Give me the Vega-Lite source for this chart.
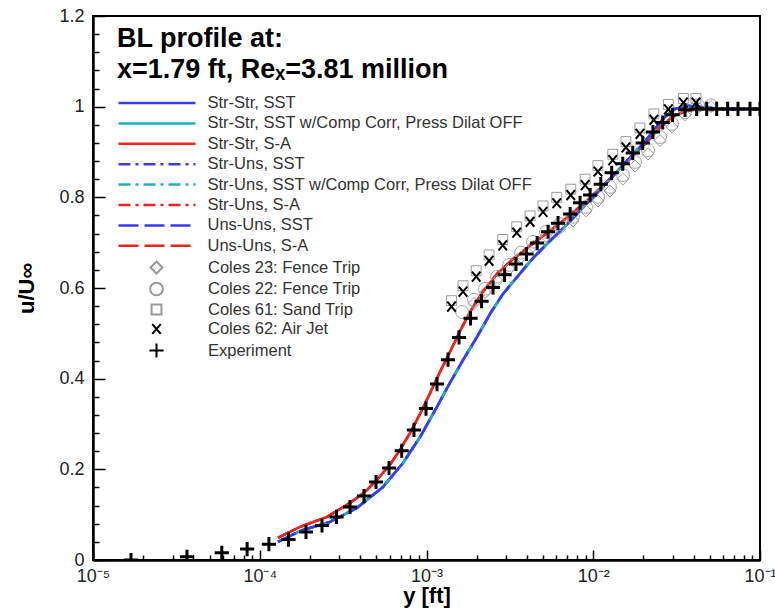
{
  "$schema": "https://vega.github.io/schema/vega-lite/v6.json",
  "width": 667,
  "height": 544,
  "autosize": "none",
  "padding": {"left": 93, "top": 16, "right": 15, "bottom": 48},
  "background": "white",
  "config": {"font": "Liberation Sans", "view": {"stroke": "black", "strokeWidth": 2}},
  "datasets": {
    "models": [
      {"m": "SA", "names": ["Str-Str, S-A", "Str-Uns, S-A", "Uns-Uns, S-A"]},
      {"m": "SST", "names": ["Str-Str, SST", "Str-Str, SST w/Comp Corr, Press Dilat OFF", "Str-Uns, SST", "Str-Uns, SST w/Comp Corr, Press Dilat OFF", "Uns-Uns, SST"]}
    ],
    "curves": [
      {"m": "SA", "x": 0.0001286, "u": 0.049},
      {"m": "SA", "x": 0.0001743, "u": 0.073},
      {"m": "SA", "x": 0.0002531, "u": 0.095},
      {"m": "SA", "x": 0.0003477, "u": 0.126},
      {"m": "SA", "x": 0.0004278, "u": 0.150},
      {"m": "SA", "x": 0.0005046, "u": 0.177},
      {"m": "SA", "x": 0.000604, "u": 0.210},
      {"m": "SA", "x": 0.0006935, "u": 0.243},
      {"m": "SA", "x": 0.000796, "u": 0.280},
      {"m": "SA", "x": 0.000914, "u": 0.322},
      {"m": "SA", "x": 0.00105, "u": 0.368},
      {"m": "SA", "x": 0.001205, "u": 0.415},
      {"m": "SA", "x": 0.001383, "u": 0.459},
      {"m": "SA", "x": 0.001588, "u": 0.505},
      {"m": "SA", "x": 0.001824, "u": 0.547},
      {"m": "SA", "x": 0.002152, "u": 0.589},
      {"m": "SA", "x": 0.002648, "u": 0.631},
      {"m": "SA", "x": 0.003302, "u": 0.664},
      {"m": "SA", "x": 0.004175, "u": 0.693},
      {"m": "SA", "x": 0.00528, "u": 0.721},
      {"m": "SA", "x": 0.00677, "u": 0.752},
      {"m": "SA", "x": 0.00892, "u": 0.788},
      {"m": "SA", "x": 0.01176, "u": 0.830},
      {"m": "SA", "x": 0.0155, "u": 0.874},
      {"m": "SA", "x": 0.02043, "u": 0.918},
      {"m": "SA", "x": 0.02515, "u": 0.954},
      {"m": "SA", "x": 0.02967, "u": 0.977},
      {"m": "SA", "x": 0.0355, "u": 0.990},
      {"m": "SA", "x": 0.0437, "u": 0.995},
      {"m": "SA", "x": 0.1, "u": 0.995},
      {"m": "SST", "x": 0.0001286, "u": 0.040},
      {"m": "SST", "x": 0.0001743, "u": 0.064},
      {"m": "SST", "x": 0.0002638, "u": 0.084},
      {"m": "SST", "x": 0.000383, "u": 0.115},
      {"m": "SST", "x": 0.000548, "u": 0.161},
      {"m": "SST", "x": 0.000723, "u": 0.214},
      {"m": "SST", "x": 0.000914, "u": 0.271},
      {"m": "SST", "x": 0.001156, "u": 0.338},
      {"m": "SST", "x": 0.001383, "u": 0.391},
      {"m": "SST", "x": 0.001656, "u": 0.441},
      {"m": "SST", "x": 0.002009, "u": 0.492},
      {"m": "SST", "x": 0.002403, "u": 0.543},
      {"m": "SST", "x": 0.002876, "u": 0.587},
      {"m": "SST", "x": 0.003489, "u": 0.624},
      {"m": "SST", "x": 0.004352, "u": 0.666},
      {"m": "SST", "x": 0.005503, "u": 0.704},
      {"m": "SST", "x": 0.00696, "u": 0.740},
      {"m": "SST", "x": 0.00892, "u": 0.782},
      {"m": "SST", "x": 0.01176, "u": 0.828},
      {"m": "SST", "x": 0.0155, "u": 0.876},
      {"m": "SST", "x": 0.02043, "u": 0.923},
      {"m": "SST", "x": 0.02346, "u": 0.951},
      {"m": "SST", "x": 0.02694, "u": 0.978},
      {"m": "SST", "x": 0.03093, "u": 0.995},
      {"m": "SST", "x": 0.037, "u": 1.002},
      {"m": "SST", "x": 0.0437, "u": 0.999},
      {"m": "SST", "x": 0.06, "u": 0.995},
      {"m": "SST", "x": 0.1, "u": 0.995}
    ],
    "pts": [
      {"src": "Coles 23: Fence Trip", "x": 0.00193, "u": 0.566},
      {"src": "Coles 23: Fence Trip", "x": 0.00225, "u": 0.590},
      {"src": "Coles 23: Fence Trip", "x": 0.00265, "u": 0.616},
      {"src": "Coles 23: Fence Trip", "x": 0.00313, "u": 0.642},
      {"src": "Coles 23: Fence Trip", "x": 0.00369, "u": 0.668},
      {"src": "Coles 23: Fence Trip", "x": 0.00435, "u": 0.692},
      {"src": "Coles 23: Fence Trip", "x": 0.00521, "u": 0.714},
      {"src": "Coles 23: Fence Trip", "x": 0.00632, "u": 0.731},
      {"src": "Coles 23: Fence Trip", "x": 0.00756, "u": 0.748},
      {"src": "Coles 23: Fence Trip", "x": 0.00905, "u": 0.770},
      {"src": "Coles 23: Fence Trip", "x": 0.01068, "u": 0.792},
      {"src": "Coles 23: Fence Trip", "x": 0.0126, "u": 0.814},
      {"src": "Coles 23: Fence Trip", "x": 0.01508, "u": 0.840},
      {"src": "Coles 23: Fence Trip", "x": 0.0178, "u": 0.869},
      {"src": "Coles 23: Fence Trip", "x": 0.0213, "u": 0.896},
      {"src": "Coles 23: Fence Trip", "x": 0.02515, "u": 0.925},
      {"src": "Coles 23: Fence Trip", "x": 0.02967, "u": 0.955},
      {"src": "Coles 23: Fence Trip", "x": 0.0355, "u": 0.982},
      {"src": "Coles 23: Fence Trip", "x": 0.0425, "u": 0.998},
      {"src": "Coles 23: Fence Trip", "x": 0.0508, "u": 1.0},
      {"src": "Coles 22: Fence Trip", "x": 0.001633, "u": 0.547},
      {"src": "Coles 22: Fence Trip", "x": 0.001928, "u": 0.574},
      {"src": "Coles 22: Fence Trip", "x": 0.002244, "u": 0.598},
      {"src": "Coles 22: Fence Trip", "x": 0.002648, "u": 0.625},
      {"src": "Coles 22: Fence Trip", "x": 0.003126, "u": 0.651},
      {"src": "Coles 22: Fence Trip", "x": 0.003688, "u": 0.678},
      {"src": "Coles 22: Fence Trip", "x": 0.004352, "u": 0.702},
      {"src": "Coles 22: Fence Trip", "x": 0.005208, "u": 0.724},
      {"src": "Coles 22: Fence Trip", "x": 0.00632, "u": 0.741},
      {"src": "Coles 22: Fence Trip", "x": 0.00756, "u": 0.757},
      {"src": "Coles 22: Fence Trip", "x": 0.00905, "u": 0.779},
      {"src": "Coles 22: Fence Trip", "x": 0.01068, "u": 0.801},
      {"src": "Coles 22: Fence Trip", "x": 0.0126, "u": 0.823},
      {"src": "Coles 22: Fence Trip", "x": 0.01508, "u": 0.849},
      {"src": "Coles 22: Fence Trip", "x": 0.0178, "u": 0.878},
      {"src": "Coles 22: Fence Trip", "x": 0.0213, "u": 0.904},
      {"src": "Coles 22: Fence Trip", "x": 0.02515, "u": 0.933},
      {"src": "Coles 22: Fence Trip", "x": 0.02967, "u": 0.962},
      {"src": "Coles 22: Fence Trip", "x": 0.0355, "u": 0.988},
      {"src": "Coles 22: Fence Trip", "x": 0.0425, "u": 1.003},
      {"src": "Coles 22: Fence Trip", "x": 0.0508, "u": 1.003},
      {"src": "Coles 61: Sand Trip", "x": 0.001413, "u": 0.572},
      {"src": "Coles 61: Sand Trip", "x": 0.001656, "u": 0.605},
      {"src": "Coles 61: Sand Trip", "x": 0.001986, "u": 0.638},
      {"src": "Coles 61: Sand Trip", "x": 0.002372, "u": 0.673},
      {"src": "Coles 61: Sand Trip", "x": 0.002866, "u": 0.707},
      {"src": "Coles 61: Sand Trip", "x": 0.003475, "u": 0.735},
      {"src": "Coles 61: Sand Trip", "x": 0.00418, "u": 0.759},
      {"src": "Coles 61: Sand Trip", "x": 0.005, "u": 0.781},
      {"src": "Coles 61: Sand Trip", "x": 0.00604, "u": 0.800},
      {"src": "Coles 61: Sand Trip", "x": 0.00733, "u": 0.818},
      {"src": "Coles 61: Sand Trip", "x": 0.00894, "u": 0.840},
      {"src": "Coles 61: Sand Trip", "x": 0.01067, "u": 0.870},
      {"src": "Coles 61: Sand Trip", "x": 0.01309, "u": 0.895},
      {"src": "Coles 61: Sand Trip", "x": 0.0157, "u": 0.923},
      {"src": "Coles 61: Sand Trip", "x": 0.01905, "u": 0.953},
      {"src": "Coles 61: Sand Trip", "x": 0.0231, "u": 0.984},
      {"src": "Coles 61: Sand Trip", "x": 0.0282, "u": 1.005},
      {"src": "Coles 61: Sand Trip", "x": 0.0347, "u": 1.018},
      {"src": "Coles 61: Sand Trip", "x": 0.0413, "u": 1.018},
      {"src": "Coles 62: Air Jet", "x": 0.001413, "u": 0.559},
      {"src": "Coles 62: Air Jet", "x": 0.001656, "u": 0.592},
      {"src": "Coles 62: Air Jet", "x": 0.001986, "u": 0.625},
      {"src": "Coles 62: Air Jet", "x": 0.002372, "u": 0.660},
      {"src": "Coles 62: Air Jet", "x": 0.002866, "u": 0.694},
      {"src": "Coles 62: Air Jet", "x": 0.003475, "u": 0.722},
      {"src": "Coles 62: Air Jet", "x": 0.00418, "u": 0.746},
      {"src": "Coles 62: Air Jet", "x": 0.005, "u": 0.768},
      {"src": "Coles 62: Air Jet", "x": 0.00604, "u": 0.787},
      {"src": "Coles 62: Air Jet", "x": 0.00733, "u": 0.805},
      {"src": "Coles 62: Air Jet", "x": 0.00894, "u": 0.827},
      {"src": "Coles 62: Air Jet", "x": 0.01067, "u": 0.857},
      {"src": "Coles 62: Air Jet", "x": 0.01309, "u": 0.882},
      {"src": "Coles 62: Air Jet", "x": 0.0157, "u": 0.910},
      {"src": "Coles 62: Air Jet", "x": 0.01905, "u": 0.940},
      {"src": "Coles 62: Air Jet", "x": 0.0231, "u": 0.971},
      {"src": "Coles 62: Air Jet", "x": 0.0282, "u": 0.994},
      {"src": "Coles 62: Air Jet", "x": 0.0347, "u": 1.009},
      {"src": "Coles 62: Air Jet", "x": 0.0413, "u": 1.009},
      {"src": "Experiment", "x": 0.0000169, "u": 0.0},
      {"src": "Experiment", "x": 0.0000366, "u": 0.007},
      {"src": "Experiment", "x": 0.0000592, "u": 0.016},
      {"src": "Experiment", "x": 0.000084, "u": 0.024},
      {"src": "Experiment", "x": 0.0001135, "u": 0.035},
      {"src": "Experiment", "x": 0.0001488, "u": 0.045},
      {"src": "Experiment", "x": 0.0001894, "u": 0.062},
      {"src": "Experiment", "x": 0.0002362, "u": 0.076},
      {"src": "Experiment", "x": 0.0002886, "u": 0.095},
      {"src": "Experiment", "x": 0.0003477, "u": 0.117},
      {"src": "Experiment", "x": 0.000422, "u": 0.141},
      {"src": "Experiment", "x": 0.000498, "u": 0.172},
      {"src": "Experiment", "x": 0.000596, "u": 0.203},
      {"src": "Experiment", "x": 0.00071, "u": 0.241},
      {"src": "Experiment", "x": 0.000841, "u": 0.287},
      {"src": "Experiment", "x": 0.000993, "u": 0.334},
      {"src": "Experiment", "x": 0.001156, "u": 0.388},
      {"src": "Experiment", "x": 0.001346, "u": 0.442},
      {"src": "Experiment", "x": 0.001567, "u": 0.491},
      {"src": "Experiment", "x": 0.001837, "u": 0.533},
      {"src": "Experiment", "x": 0.00214, "u": 0.571},
      {"src": "Experiment", "x": 0.002507, "u": 0.601},
      {"src": "Experiment", "x": 0.00294, "u": 0.629},
      {"src": "Experiment", "x": 0.00344, "u": 0.653},
      {"src": "Experiment", "x": 0.00398, "u": 0.675},
      {"src": "Experiment", "x": 0.00461, "u": 0.699},
      {"src": "Experiment", "x": 0.00536, "u": 0.724},
      {"src": "Experiment", "x": 0.00615, "u": 0.743},
      {"src": "Experiment", "x": 0.00727, "u": 0.763},
      {"src": "Experiment", "x": 0.00834, "u": 0.788},
      {"src": "Experiment", "x": 0.00958, "u": 0.805},
      {"src": "Experiment", "x": 0.0111, "u": 0.829},
      {"src": "Experiment", "x": 0.0129, "u": 0.854},
      {"src": "Experiment", "x": 0.01503, "u": 0.874},
      {"src": "Experiment", "x": 0.01726, "u": 0.898},
      {"src": "Experiment", "x": 0.0198, "u": 0.920},
      {"src": "Experiment", "x": 0.0228, "u": 0.944},
      {"src": "Experiment", "x": 0.0261, "u": 0.965},
      {"src": "Experiment", "x": 0.0299, "u": 0.982},
      {"src": "Experiment", "x": 0.0355, "u": 0.993},
      {"src": "Experiment", "x": 0.0417, "u": 0.995},
      {"src": "Experiment", "x": 0.0479, "u": 0.995},
      {"src": "Experiment", "x": 0.055, "u": 0.995},
      {"src": "Experiment", "x": 0.064, "u": 0.995},
      {"src": "Experiment", "x": 0.0738, "u": 0.995},
      {"src": "Experiment", "x": 0.0871, "u": 0.995},
      {"src": "Experiment", "x": 0.1, "u": 0.995}
    ]
  },
  "encoding": {
    "x": {
      "field": "x", "type": "quantitative",
      "scale": {"type": "log", "domain": [0.00001, 0.1], "nice": false},
      "axis": {
        "title": "y [ft]", "titleFontSize": 22, "titleFontWeight": "bold", "titleColor": "black", "titlePadding": -5,
        "values": [0.00001,0.00002,0.00003,0.00004,0.00005,0.00006,0.00007,0.00008,0.00009,0.0001,0.0002,0.0003,0.0004,0.0005,0.0006,0.0007,0.0008,0.0009,0.001,0.002,0.003,0.004,0.005,0.006,0.007,0.008,0.009,0.01,0.02,0.03,0.04,0.05,0.06,0.07,0.08,0.09,0.1],
        "labelExpr": "abs(log(datum.value)/LN10 - round(log(datum.value)/LN10)) > 0.001 ? '' : ['10⁻⁵','10⁻⁴','10⁻³','10⁻²','10⁻¹'][round(log(datum.value)/LN10)+5]",
        "tickSize": {"condition": {"test": "abs(log(datum.value)/LN10 - round(log(datum.value)/LN10)) < 0.001", "value": -10}, "value": -5},
        "tickColor": "black", "tickWidth": 1.5,
        "domainColor": "black", "domainWidth": 2.5,
        "labelFontSize": 18, "labelColor": "#222", "labelPadding": 17,
        "labelOverlap": false, "labelFlush": false, "grid": false
      }
    },
    "y": {
      "field": "u", "type": "quantitative",
      "scale": {"domain": [0, 1.2], "nice": false, "zero": false},
      "axis": {
        "title": "u/U∞", "titleFontSize": 22, "titleFontWeight": "bold", "titleColor": "black", "titlePadding": 20,
        "values": [0,0.04,0.08,0.12,0.16,0.2,0.24,0.28,0.32,0.36,0.4,0.44,0.48,0.52,0.56,0.6,0.64,0.68,0.72,0.76,0.8,0.84,0.88,0.92,0.96,1,1.04,1.08,1.12,1.16,1.2],
        "labelExpr": "abs(datum.value*5 - round(datum.value*5)) < 0.001 ? toString(round(datum.value*10)/10) : ''",
        "tickSize": {"condition": {"test": "abs(datum.value*5 - round(datum.value*5)) < 0.001", "value": -12}, "value": -6},
        "tickColor": "black", "tickWidth": 1.5,
        "domainColor": "black", "domainWidth": 2.5,
        "labelFontSize": 18, "labelColor": "#222", "labelPadding": 21,
        "labelOverlap": false, "labelFlush": false, "grid": false
      }
    }
  },
  "layer": [
    {
      "data": {"name": "curves"},
      "transform": [
        {"lookup": "m", "from": {"data": {"name": "models"}, "key": "m", "fields": ["names"]}},
        {"flatten": ["names"]}
      ],
      "mark": {"type": "line", "strokeWidth": 2.5, "clip": true},
      "encoding": {
        "color": {
          "field": "names", "type": "nominal",
          "scale": {
            "domain": ["Str-Str, SST", "Str-Str, SST w/Comp Corr, Press Dilat OFF", "Str-Str, S-A", "Str-Uns, SST", "Str-Uns, SST w/Comp Corr, Press Dilat OFF", "Str-Uns, S-A", "Uns-Uns, SST", "Uns-Uns, S-A"],
            "range": ["#3b3bf5", "#20b2b2", "#e8251f", "#3b3bf5", "#20b2b2", "#e8251f", "#3b3bf5", "#e8251f"]
          },
          "legend": {
            "orient": "none", "legendX": 24, "legendY": 10, "padding": 0,
            "title": ["BL profile at:", "x=1.79 ft, Reₓ=3.81 million"],
            "titleFontSize": 27, "titleFontWeight": "bold", "titleColor": "black", "titleLineHeight": 31, "titlePadding": 7.5, "titleLimit": 1000,
            "symbolType": "M-3.85,0H3.85", "symbolSize": 400, "symbolStrokeWidth": 2.5, "symbolOffset": 28.5,
            "labelFontSize": 16.5, "labelColor": "#333", "labelOffset": 39, "labelLimit": 600, "rowPadding": 0.4
          }
        },
        "strokeDash": {
          "field": "names", "type": "nominal",
          "scale": {
            "domain": ["Str-Str, SST", "Str-Str, SST w/Comp Corr, Press Dilat OFF", "Str-Str, S-A", "Str-Uns, SST", "Str-Uns, SST w/Comp Corr, Press Dilat OFF", "Str-Uns, S-A", "Uns-Uns, SST", "Uns-Uns, S-A"],
            "range": [[1, 0], [1, 0], [1, 0], [12, 5, 3, 5], [12, 5, 3, 5], [12, 5, 3, 5], [20, 6], [20, 6]]
          }
        }
      }
    },
    {
      "data": {"name": "pts"},
      "transform": [{"filter": "datum.src != 'Experiment' && datum.src != 'Coles 62: Air Jet'"}],
      "mark": {"type": "point", "filled": false, "size": 200, "strokeWidth": 1, "opacity": 1, "clip": true},
      "encoding": {
        "shape": {
          "field": "src", "type": "nominal",
          "scale": {
            "domain": ["Coles 23: Fence Trip", "Coles 22: Fence Trip", "Coles 61: Sand Trip", "Coles 62: Air Jet", "Experiment"],
            "range": ["M0,-0.85L0.85,0L0,0.85L-0.85,0Z", "M0.9,0A0.9,0.9,0,1,1,-0.9,0A0.9,0.9,0,1,1,0.9,0Z", "M-0.7,-0.7H0.7V0.7H-0.7Z", "M-0.6,-0.7L0.6,0.7M0.6,-0.7L-0.6,0.7", "M-1,0H1M0,-1V1"]
          },
          "legend": {
            "orient": "none", "legendX": 55, "legendY": 243, "padding": 0, "title": null,
            "symbolSize": 200, "symbolStrokeWidth": 2,
            "labelFontSize": 16.5, "labelColor": "#333", "labelOffset": 43, "rowPadding": 0.5
          }
        },
        "stroke": {
          "field": "src", "type": "nominal",
          "scale": {
            "domain": ["Coles 23: Fence Trip", "Coles 22: Fence Trip", "Coles 61: Sand Trip", "Coles 62: Air Jet", "Experiment"],
            "range": ["#9a9a9a", "#9a9a9a", "#9a9a9a", "#000000", "#000000"]
          }
        }
      }
    },
    {
      "data": {"name": "pts"},
      "transform": [{"filter": "datum.src == 'Coles 62: Air Jet'"}],
      "mark": {"type": "point", "filled": false, "size": 200, "strokeWidth": 2, "opacity": 1, "clip": true},
      "encoding": {
        "shape": {"field": "src", "type": "nominal"},
        "stroke": {"field": "src", "type": "nominal"}
      }
    },
    {
      "data": {"name": "pts"},
      "transform": [{"filter": "datum.src == 'Experiment'"}],
      "mark": {"type": "point", "filled": false, "size": 200, "strokeWidth": 3, "opacity": 1, "clip": true},
      "encoding": {
        "shape": {"field": "src", "type": "nominal"},
        "stroke": {"field": "src", "type": "nominal"}
      }
    }
  ]
}
